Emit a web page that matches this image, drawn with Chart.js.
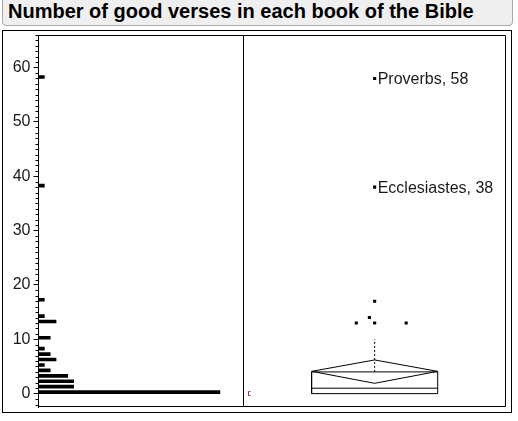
<!DOCTYPE html>
<html>
<head>
<meta charset="utf-8">
<script src="https://cdn.jsdelivr.net/npm/chart.js@4"></script>
<style>
  body { margin: 0; background: #fff; }
  #wrap { position: relative; width: 518px; height: 421px; overflow: hidden; }
  #title { position: absolute; left: 2px; top: -4px; width: 511px; height: 30px; box-sizing: border-box;
           border: 1px solid #a8a8a8; border-radius: 4px; background: #efefef; z-index: 2; }
  #title span { position: absolute; left: 5px; top: 3px; font: bold 20px Arial, "Liberation Sans", sans-serif;
                color: #000; white-space: nowrap; }
  canvas { position: absolute; left: 0; top: 0; }
</style>
</head>
<body>
<div id="wrap">
  <div id="title"><span>Number of good verses in each book of the Bible</span></div>
  <canvas id="chart" width="518" height="421"></canvas>
</div>
<script>
// histogram: number of books per verse count
const binValues = [0, 1, 2, 3, 4, 5, 6, 7, 8, 10, 13, 14, 17, 38, 58];
const binCounts = [31, 6, 6, 5, 2, 1, 3, 2, 1, 2, 3, 1, 1, 1, 1];

// outlier box plot
const quartiles = [0, 1, 4];          // q1, median, q3
const upperWhisker = 10;
const meanDiamond = [1.9, 4.1, 6.2];   // lower CI, mean, upper CI
const outlierValues = [13, 13, 13, 14, 17, 38, 58];
const outlierJitter = [0.43, 0.5, 0.62, 0.48, 0.5, 0.5, 0.5];
const labelNames = ["Proverbs", "Ecclesiastes"];
const labelValues = [58, 38];

const yTicks = [0, 10, 20, 30, 40, 50, 60];

const BOX_L = 0.26, BOX_R = 0.74, MID = 0.5;
const FONT = "Arial, 'Liberation Sans', sans-serif";

function lineSet(points, extra) {
  return Object.assign({
    type: "line",
    xAxisID: "xb",
    yAxisID: "y",
    data: points,
    borderColor: "#000",
    borderWidth: 1,
    pointRadius: 0,
    tension: 0,
    fill: false,
  }, extra || {});
}

const [q1, med, q3] = quartiles;
const [ciLo, mean, ciHi] = meanDiamond;

const framePlugin = {
  id: "frame",
  afterDraw(chart) {
    const { ctx, chartArea: a, scales } = chart;
    const y = scales.y;
    ctx.save();
    ctx.strokeStyle = "#000";
    ctx.lineWidth = 1;
    // outer frame
    ctx.strokeRect(2.5, 30.5, 509, 382);
    // plot box
    ctx.beginPath();
    ctx.moveTo(38, 35.5);
    ctx.lineTo(Math.round(a.right) - 0.5, 35.5);
    ctx.lineTo(Math.round(a.right) - 0.5, Math.round(a.bottom) - 0.5);
    ctx.lineTo(38, Math.round(a.bottom) - 0.5);
    ctx.stroke();
    // divider between histogram and box plot
    const dx = Math.round(scales.xh.right) + 0.5;
    ctx.beginPath();
    ctx.moveTo(dx, a.top);
    ctx.lineTo(dx, a.bottom);
    ctx.stroke();
    // minor ticks
    ctx.beginPath();
    for (let v = Math.ceil(y.min); v <= Math.floor(y.max); v++) {
      if (v % 10 === 0) continue;
      const py = Math.round(y.getPixelForValue(v)) + 0.5;
      ctx.moveTo(a.left - 3, py);
      ctx.lineTo(a.left, py);
    }
    ctx.stroke();
    // labelled outliers
    ctx.fillStyle = "#1a1a1a";
    ctx.font = "16px " + FONT;
    ctx.textAlign = "left";
    ctx.textBaseline = "middle";
    labelNames.forEach((name, i) => {
      const px = scales.xb.getPixelForValue(MID) + 3;
      const py = y.getPixelForValue(labelValues[i]) + 1;
      ctx.fillText(name + ", " + labelValues[i], px, py);
    });
    // small red marker
    ctx.strokeStyle = "#b03030";
    const rx = dx + 5, ry = Math.round(y.getPixelForValue(0));
    ctx.beginPath();
    ctx.moveTo(rx + 2, ry - 2.5);
    ctx.lineTo(rx, ry - 2.5);
    ctx.lineTo(rx, ry + 1.5);
    ctx.lineTo(rx + 2, ry + 1.5);
    ctx.stroke();
    ctx.restore();
  },
};

new Chart(document.getElementById("chart").getContext("2d"), {
  type: "bar",
  data: {
    datasets: [
      {
        type: "bar",
        indexAxis: "y",
        xAxisID: "xh",
        yAxisID: "y",
        data: binValues.map((v, i) => ({ x: binCounts[i], y: v })),
        backgroundColor: "#000",
        barThickness: 3,
      },
      lineSet([{ x: BOX_L, y: q1 }, { x: BOX_R, y: q1 }, { x: BOX_R, y: q3 }, { x: BOX_L, y: q3 }, { x: BOX_L, y: q1 }]),
      lineSet([{ x: BOX_L, y: med }, { x: BOX_R, y: med }]),
      lineSet([{ x: BOX_L, y: mean }, { x: MID, y: ciHi }, { x: BOX_R, y: mean }, { x: MID, y: ciLo }, { x: BOX_L, y: mean }]),
      lineSet([{ x: MID, y: q3 }, { x: MID, y: upperWhisker }], { borderDash: [2, 2] }),
      lineSet(outlierValues.map((v, i) => ({ x: outlierJitter[i], y: v })), {
        showLine: false,
        pointRadius: 2.2,
        pointStyle: "rect",
        pointBackgroundColor: "#000",
        pointBorderWidth: 0,
      }),
    ],
  },
  options: {
    responsive: false,
    animation: false,
    events: [],
    layout: { padding: { left: 0, top: 35, right: 12, bottom: 14 } },
    plugins: { legend: { display: false }, tooltip: { enabled: false } },
    scales: {
      xh: { type: "linear", position: "bottom", stack: "x", stackWeight: 204.8, min: 0, max: 35,
            offset: false, grid: { offset: false }, display: false },
      xb: { type: "linear", position: "bottom", stack: "x", stackWeight: 262.7, min: 0, max: 1,
            offset: false, grid: { offset: false }, display: false },
      y: {
        type: "linear",
        position: "left",
        min: -2.46,
        max: 66.0,
        offset: false,
        afterBuildTicks: (s) => { s.ticks = yTicks.map((v) => ({ value: v })); },
        afterFit: (s) => { s.width = 38.5; },
        ticks: { font: { size: 16, family: FONT }, color: "#1a1a1a", padding: 3 },
        grid: { offset: false, drawOnChartArea: false, tickLength: 5, color: "#000" },
        border: { color: "#000" },
      },
    },
  },
  plugins: [framePlugin],
});
</script>
</body>
</html>
